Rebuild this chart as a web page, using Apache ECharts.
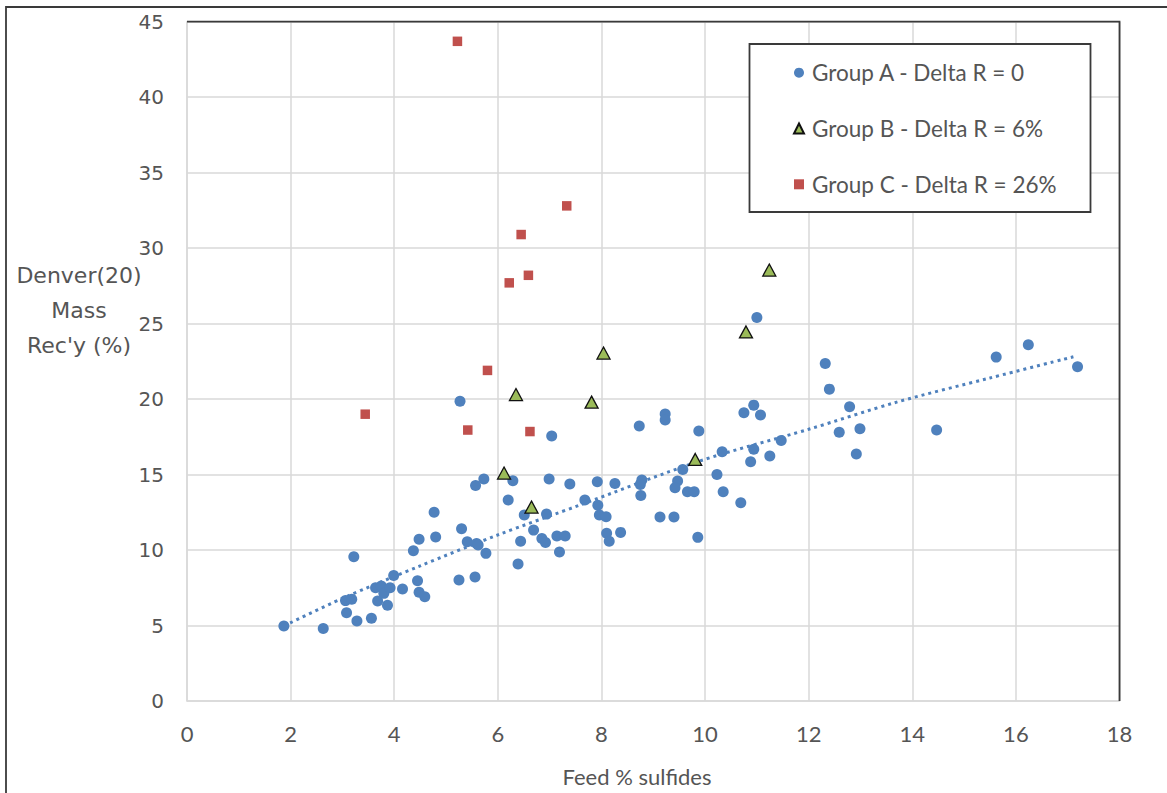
<!DOCTYPE html>
<html>
<head>
<meta charset="utf-8">
<script src="https://cdn.jsdelivr.net/npm/echarts@6/dist/echarts.min.js"></script>
<style>html,body{margin:0;padding:0;background:#fff}#c{width:1167px;height:793px}</style>
</head>
<body>
<div id="c"></div>
<script>
const xTicks = [0, 2, 4, 6, 8, 10, 12, 14, 16, 18];
const yTicks = [0, 5, 10, 15, 20, 25, 30, 35, 40, 45];
const seriesNames = ['Group A - Delta R = 0', 'Group B - Delta R = 6%', 'Group C - Delta R = 26%'];
const xTitle = 'Feed % sulfides';
const yTitle = "Denver(20)\nMass\nRec'y (%)";

const groupA = [
[1.87,4.97],[2.63,4.81],[3.22,9.56],[3.08,5.85],[3.06,6.65],[3.18,6.74],[3.28,5.30],[3.56,5.48],
[3.68,6.63],[3.64,7.50],[3.75,7.62],[3.80,7.13],[3.87,6.34],[3.92,7.50],[3.99,8.32],[4.16,7.42],
[4.37,9.95],[4.48,10.71],[4.45,7.97],[4.48,7.20],[4.59,6.91],[4.77,12.50],[4.80,10.86],[5.30,11.41],
[5.41,10.55],[5.59,10.44],[5.62,10.33],[5.25,8.01],[5.56,8.21],[5.27,19.85],[7.04,17.55],[8.73,18.21],
[9.23,19.01],[9.23,18.61],[9.88,17.88],[9.57,15.34],[5.73,14.70],[5.57,14.28],[6.29,14.59],[6.99,14.70],
[7.39,14.37],[7.92,14.52],[8.26,14.41],[8.78,14.64],[8.75,14.35],[8.76,13.62],[9.47,14.57],[9.42,14.13],
[9.66,13.86],[9.79,13.86],[6.20,13.31],[7.68,13.31],[7.93,12.96],[6.51,12.32],[6.94,12.38],[7.96,12.32],
[8.09,12.21],[6.69,11.32],[5.77,9.78],[6.44,10.58],[6.85,10.77],[6.92,10.50],[7.14,10.93],[7.30,10.93],
[7.19,9.87],[8.10,11.11],[8.15,10.58],[8.37,11.17],[6.39,9.07],[9.86,10.84],[12.40,20.66],[10.94,19.60],
[10.75,19.09],[11.07,18.94],[12.79,19.49],[12.59,17.81],[12.99,18.03],[12.92,16.36],[10.33,16.51],[10.94,16.67],
[11.47,17.26],[10.88,15.85],[11.25,16.23],[10.23,15.01],[10.35,13.86],[10.69,13.13],[9.13,12.19],[9.40,12.19],
[11.00,25.41],[12.32,22.36],[15.62,22.78],[16.24,23.60],[17.19,22.14],[14.47,17.95]
];
const groupB = [[6.12,15.1],[6.35,20.3],[6.65,12.85],[7.81,19.8],[8.04,23.05],[9.81,16.0],[10.79,24.45],[11.24,28.55]];
const groupC = [[5.22,43.7],[7.33,32.8],[6.45,30.9],[6.59,28.2],[6.22,27.7],[5.80,21.9],[3.44,19.0],[5.42,17.95],[6.62,17.85]];
const trendA = [[1.87,4.97],[3,6.8],[4.5,8.95],[6,11.0],[7.6,13.0],[9.9,15.9],[12,18.0],[13.7,19.8],[15.5,21.4],[17.11,22.8]];

const chart = echarts.init(document.getElementById('c'), null, {renderer: 'svg'});
const txt = '#555555';
const gridC = '#d9d9d9';
const L = 187, R = 1119.5, T = 21.7, B = 701;
chart.setOption({
  animation: false,
  backgroundColor: '#fff',
  grid: {left: L, right: 1167 - R, top: T, bottom: 793 - B, containLabel: false},
  xAxis: {
    type: 'value', min: xTicks[0], max: xTicks[xTicks.length - 1], interval: xTicks[1] - xTicks[0],
    axisLine: {show: true, lineStyle: {color: gridC, width: 1.5}},
    axisTick: {show: false},
    splitLine: {show: true, lineStyle: {color: gridC, width: 1.5}},
    axisLabel: {color: txt, fontFamily: "Lato, sans-serif", fontSize: 22, margin: 21}
  },
  yAxis: {
    type: 'value', min: yTicks[0], max: yTicks[yTicks.length - 1], interval: yTicks[1] - yTicks[0],
    axisLine: {show: true, lineStyle: {color: gridC, width: 1.5}},
    axisTick: {show: false},
    splitLine: {show: true, lineStyle: {color: gridC, width: 1.5}},
    axisLabel: {color: txt, fontFamily: "'DejaVu Sans', sans-serif", fontSize: 20, margin: 23}
  },
  legend: {
    data: seriesNames, orient: 'vertical', left: 793, top: 61.2, padding: 0, z: 200,
    itemWidth: 10, itemHeight: 10, itemGap: 32.8,
    textStyle: {color: txt, fontFamily: "Lato, sans-serif", fontSize: 22.5, lineHeight: 22, padding: [0,0,0,3]}
  },
  graphic: [
    {type: 'rect', z: -10, silent: true, shape: {x: 6, y: 7, width: 1400, height: 1000}, style: {fill: 'none', stroke: '#3a3a3a', lineWidth: 1.8}},
    {type: 'polyline', z: 50, silent: true, shape: {points: [[L, T], [R, T], [R, B]]}, style: {fill: 'none', stroke: '#3a3a3a', lineWidth: 1.8}},
    {type: 'rect', z: 60, silent: true, shape: {x: 749.5, y: 44, width: 341, height: 168}, style: {fill: '#fff', stroke: '#3a3a3a', lineWidth: 1.8}},
    {type: 'text', z: 50, silent: true, x: 637, y: 776, style: {text: xTitle, fill: txt, font: "22px Lato, sans-serif", textAlign: 'center', textVerticalAlign: 'middle'}},
    {type: 'text', z: 50, silent: true, x: 79, y: 310, style: {text: yTitle, fill: txt, font: "22px 'DejaVu Sans', sans-serif", textAlign: 'center', textVerticalAlign: 'middle', lineHeight: 35}}
  ],
  series: [
    {type: 'line', name: 'trend', data: trendA, showSymbol: false, smooth: 0.3, z: 1, silent: true,
     lineStyle: {color: '#4f81bd', width: 3, type: [3, 4], cap: 'butt'}},
    {type: 'scatter', name: seriesNames[0], data: groupA, symbol: 'circle', symbolSize: 11, z: 2,
     itemStyle: {color: '#4f81bd', opacity: 1}},
    {type: 'scatter', name: seriesNames[1], data: groupB, symbol: 'triangle', symbolSize: [13, 12], z: 3,
     itemStyle: {color: '#9bbb59', borderColor: '#111', borderWidth: 1.3, opacity: 1}},
    {type: 'scatter', name: seriesNames[2], data: groupC, symbol: 'rect', symbolSize: 9.5, z: 4,
     itemStyle: {color: '#c0504d', opacity: 1}}
  ]
});
</script>
</body>
</html>
